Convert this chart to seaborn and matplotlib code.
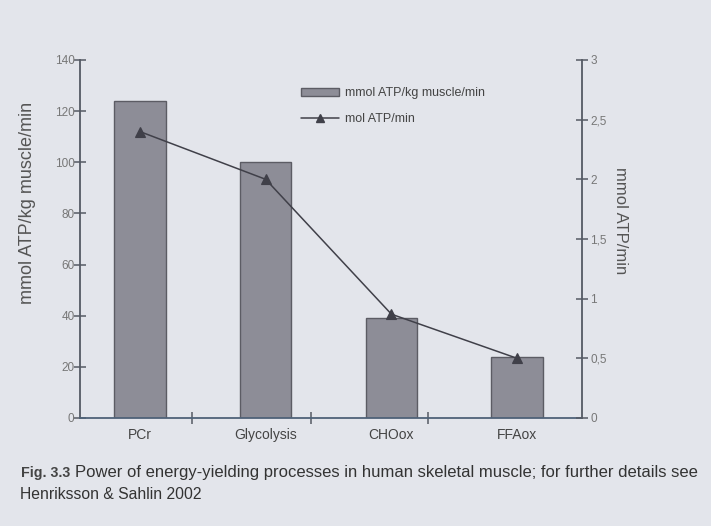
import matplotlib
matplotlib.use("Agg")
import matplotlib.pyplot as plt
import seaborn as sns
import numpy as np
import pandas as pd
from matplotlib.patches import Patch
from matplotlib.lines import Line2D

categories = ["PCr", "Glycolysis", "CHOox", "FFAox"]
bar_values = [124, 100, 39, 24]          # mmol ATP/kg muscle/min
line_values = [2.4, 2.0, 0.87, 0.5]      # mmol ATP/min
left_ticks = [0, 20, 40, 60, 80, 100, 120, 140]
right_ticks = [0, 0.5, 1, 1.5, 2, 2.5, 3]
right_tick_labels = ["0", "0,5", "1", "1,5", "2", "2,5", "3"]

sns.set_theme(style="white")
plt.rcParams['font.family'] = ['Liberation Sans', 'DejaVu Sans']

BG = "#e3e5eb"
AX = "#555a64"
BAR = "#8d8d97"
fig = plt.figure(figsize=(7.11, 5.26), dpi=100, facecolor=BG)
ax = fig.add_axes([80/711, 1-418/526, 502/711, 358/526])
ax.set_facecolor(BG)

df = pd.DataFrame({"cat": categories, "val": bar_values, "line": line_values})
sns.barplot(data=df, x="cat", y="val", ax=ax, width=0.41, color=BAR,
            edgecolor="#5c5c64", linewidth=1.0, saturation=1)

ax.set_xlim(-0.477, 3.516)
ax.set_ylim(0, 140)
ax.set_yticks(left_ticks)
ax.set_xlabel("")
ax.set_ylabel("mmol ATP/kg muscle/min", fontsize=13, color="#555555")
ax.yaxis.set_label_coords(-0.088, 0.60)

for s in ["top", "right"]:
    ax.spines[s].set_visible(False)
ax.spines["left"].set_color(AX)
ax.spines["bottom"].set_color("#4f6278")
ax.spines["left"].set_linewidth(1.3)
ax.spines["bottom"].set_linewidth(1.3)

ax.tick_params(axis="y", direction="inout", length=8, width=1.1, color=AX,
               labelsize=8.5, labelcolor="#777777", pad=0, left=True)
ax.tick_params(axis="x", length=0, labelsize=10, labelcolor="#444444", pad=7)
ax.set_xticks(range(len(categories)))
ax.set_xticks([0.414, 1.36, 2.29], minor=True)
ax.tick_params(axis="x", which="minor", direction="inout", length=8, width=1.1,
               color=AX, bottom=True)

ax2 = ax.twinx()
sns.pointplot(data=df, x="cat", y="line", ax=ax2, color="#404049",
              markers="^", markersize=7, linewidth=1.1)
ax2.set_xlim(-0.477, 3.516)
ax2.set_ylim(0, 3)
ax2.set_yticks(right_ticks)
ax2.set_yticklabels(right_tick_labels)
ax2.set_ylabel("mmol ATP/min", fontsize=12, color="#555555", rotation=270,
               labelpad=0)
ax2.yaxis.set_label_coords(1.092, 0.55)
for s in ["top", "left", "bottom"]:
    ax2.spines[s].set_visible(False)
ax2.spines["right"].set_color(AX)
ax2.spines["right"].set_linewidth(1.3)
ax2.tick_params(axis="y", direction="inout", length=8, width=1.1, color=AX,
                labelsize=8.5, labelcolor="#777777", pad=2, right=True)
ax2.set_xlabel("")

handles = [Patch(facecolor=BAR, edgecolor="#5c5c64", linewidth=1.0),
           Line2D([0], [0], color="#404049", marker="^", markersize=6, linewidth=1.1)]
fig.legend(handles, ["mmol ATP/kg muscle/min", "mol ATP/min"],
           loc="upper left", bbox_to_anchor=(290/711, 1-76/526),
           frameon=False, fontsize=9, handlelength=3.0, handleheight=0.6,
           handletextpad=0.5, labelspacing=1.1, labelcolor="#444444")

fig.text(21/711, 1-477/526, "Fig. 3.3", fontsize=10.3, color="#444444",
         va="baseline", fontweight="bold")
fig.text(75/711, 1-477/526,
         "Power of energy-yielding processes in human skeletal muscle; for further details see",
         fontsize=12, color="#333333", va="baseline")
fig.text(20/711, 1-499/526, "Henriksson & Sahlin 2002", fontsize=11.3,
         color="#333333", va="baseline")

fig.savefig("out.png", dpi=100, facecolor=BG)
